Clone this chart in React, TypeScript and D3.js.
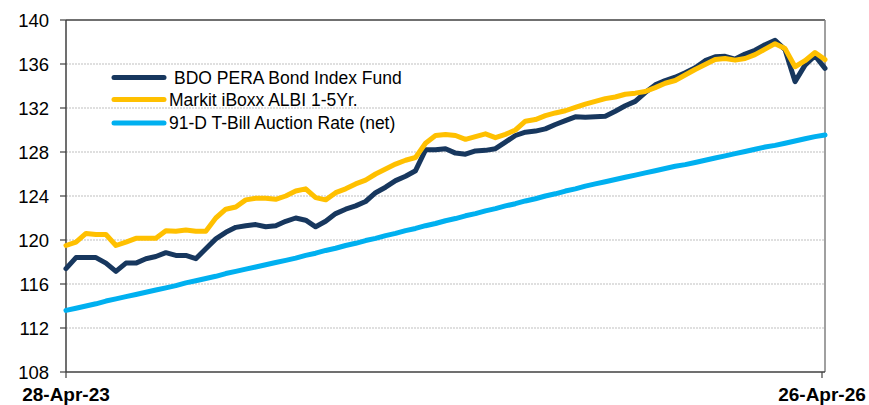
import React from "react";
import * as d3 from "d3";

const xLabels = ["28-Apr-23", "26-Apr-26"];
const yTicks = [108, 112, 116, 120, 124, 128, 132, 136, 140];

const seriesNames = [
  "BDO PERA Bond Index Fund",
  "Markit iBoxx ALBI 1-5Yr.",
  "91-D T-Bill Auction Rate (net)",
];

const bdoPera = [
  117.4, 118.4, 118.4, 118.4, 117.9, 117.15, 117.9, 117.9, 118.3, 118.5,
  118.85, 118.6, 118.6, 118.3, 119.2, 120.1, 120.7, 121.15, 121.3, 121.4,
  121.2, 121.3, 121.7, 122.0, 121.8, 121.2, 121.7, 122.4, 122.8, 123.1,
  123.5, 124.3, 124.8, 125.4, 125.8, 126.3, 128.2, 128.2, 128.3, 127.9,
  127.8, 128.1, 128.15, 128.3, 128.9, 129.5, 129.8, 129.9, 130.1, 130.5,
  130.85, 131.2, 131.15, 131.2, 131.25, 131.7, 132.2, 132.6, 133.4, 134.1,
  134.5, 134.8, 135.2, 135.65, 136.3, 136.65, 136.7, 136.45, 136.9, 137.25,
  137.75, 138.15, 137.3, 134.4, 135.9, 136.75, 135.6,
];

const markitAlbi = [
  119.5, 119.8, 120.6, 120.5, 120.5, 119.5, 119.8, 120.15, 120.15, 120.15,
  120.85, 120.8, 120.9, 120.8, 120.8, 122.0, 122.8, 123.0, 123.65, 123.8,
  123.8, 123.7, 124.0, 124.45, 124.65, 123.85, 123.65, 124.3, 124.65, 125.1,
  125.45, 126.0, 126.45, 126.9, 127.25, 127.5, 128.8, 129.5, 129.6, 129.5,
  129.15, 129.4, 129.65, 129.3, 129.6, 130.0, 130.8, 130.95, 131.3, 131.55,
  131.75, 132.05, 132.35, 132.6, 132.85, 133.0, 133.25, 133.35, 133.5, 133.85,
  134.25, 134.5, 135.0, 135.5, 135.95, 136.4, 136.5, 136.35, 136.5, 136.85,
  137.35, 137.85, 137.4, 135.75, 136.3, 137.05, 136.4,
];

const tBill = [
  113.6, 113.8, 114.0, 114.2, 114.45, 114.65, 114.85, 115.05, 115.25, 115.45,
  115.65, 115.85, 116.1, 116.3, 116.5, 116.7, 116.95, 117.15, 117.35, 117.55,
  117.75, 117.95, 118.15, 118.35, 118.6, 118.8, 119.05, 119.25, 119.5, 119.7,
  119.95, 120.15, 120.4, 120.6, 120.85, 121.05, 121.3, 121.5, 121.75, 121.95,
  122.2, 122.4, 122.65, 122.85, 123.1, 123.3, 123.55, 123.75, 124.0, 124.2,
  124.45, 124.65, 124.9, 125.1, 125.3, 125.5, 125.7, 125.9, 126.1, 126.3,
  126.5, 126.7, 126.85, 127.05, 127.25, 127.45, 127.65, 127.85, 128.05, 128.25,
  128.45, 128.6, 128.8, 129.0, 129.2, 129.4, 129.55,
];

const colors = ["#17375e", "#ffc000", "#00b0f0"];

export default function App() {
  const W = 869;
  const H = 405;
  const left = 66;
  const right = 825;
  const top = 20;
  const bottom = 372;

  const n = bdoPera.length;
  const x = d3.scaleLinear().domain([0, n - 1]).range([left, right]);
  const y = d3.scaleLinear().domain([108, 140]).range([bottom, top]);

  const line = d3
    .line<number>()
    .x((_, i) => x(i))
    .y((d) => y(d));

  const series = [tBill, bdoPera, markitAlbi];
  const seriesColors = [colors[2], colors[0], colors[1]];

  const font = "Arial, 'Liberation Sans', sans-serif";

  return (
    <svg
      width={W}
      height={H}
      style={{ position: "absolute", left: 0, top: 0, background: "#fff" }}
    >
      <rect x={0} y={0} width={W} height={H} fill="#fff" />
      {yTicks
        .filter((t) => t !== 108 && t !== 140)
        .map((t) => (
          <line
            key={"g" + t}
            x1={left}
            x2={right}
            y1={y(t)}
            y2={y(t)}
            stroke="#bfbfbf"
            strokeWidth={1}
            strokeDasharray="2,1"
          />
        ))}
      <line x1={left} x2={right} y1={top} y2={top} stroke="#404040" strokeWidth={1.5} />
      <line x1={right} x2={right} y1={top} y2={bottom} stroke="#808080" strokeWidth={1.5} />
      <line x1={left} x2={right} y1={bottom} y2={bottom} stroke="#404040" strokeWidth={1.5} />
      <line x1={left} x2={left} y1={top} y2={bottom} stroke="#404040" strokeWidth={1.5} />
      {yTicks.map((t) => (
        <g key={"t" + t}>
          <line x1={left - 6} x2={left} y1={y(t)} y2={y(t)} stroke="#404040" strokeWidth={1.2} />
          <text
            x={49}
            y={y(t)}
            dy="0.36em"
            textAnchor="end"
            fontFamily={font}
            fontSize={18.5}
            fill="#000"
          >
            {t}
          </text>
        </g>
      ))}
      <line x1={left} x2={left} y1={bottom} y2={bottom + 6} stroke="#404040" strokeWidth={1.2} />
      <line x1={822} x2={822} y1={bottom} y2={bottom + 6} stroke="#404040" strokeWidth={1.2} />
      <text x={left} y={401} textAnchor="middle" fontFamily={font} fontSize={19} fontWeight="bold">
        {xLabels[0]}
      </text>
      <text x={822} y={401} textAnchor="middle" fontFamily={font} fontSize={19} fontWeight="bold">
        {xLabels[1]}
      </text>
      {series.map((s, k) => (
        <path
          key={"s" + k}
          d={line(s) || ""}
          fill="none"
          stroke={seriesColors[k]}
          strokeWidth={5}
          strokeLinejoin="round"
          strokeLinecap="round"
        />
      ))}
      {seriesNames.map((name, i) => {
        const ly = [77.5, 99.5, 123][i];
        return (
          <g key={"l" + i}>
            <line
              x1={114}
              x2={164}
              y1={ly}
              y2={ly}
              stroke={colors[i]}
              strokeWidth={5}
              strokeLinecap="round"
            />
            <text
              x={i === 0 ? 174 : 169}
              y={ly}
              dy="0.36em"
              fontFamily={font}
              fontSize={17.5}
              fill="#000"
            >
              {name}
            </text>
          </g>
        );
      })}
    </svg>
  );
}
